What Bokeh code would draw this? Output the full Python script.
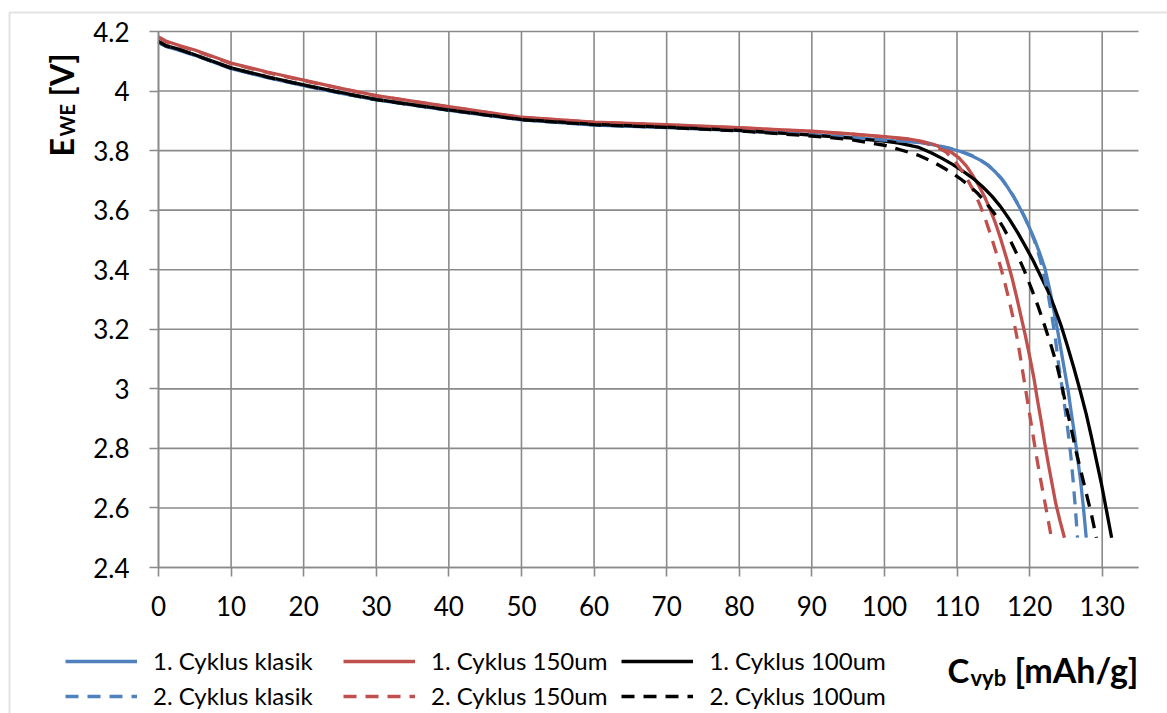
import numpy as np
from bokeh.plotting import figure
from bokeh.models import (Range1d, FixedTicker, CustomJSTickFormatter, Legend,
                          LegendItem, Label, BoxAnnotation)
from bokeh.embed import file_html
from bokeh.resources import INLINE

# ---------------- data ----------------
x_ticks = [0, 10, 20, 30, 40, 50, 60, 70, 80, 90, 100, 110, 120, 130]
y_ticks = [2.4, 2.6, 2.8, 3.0, 3.2, 3.4, 3.6, 3.8, 4.0, 4.2]

early_x = [0, 1, 3, 5, 10, 15, 20, 25, 30, 40, 50, 60, 70, 80, 90, 95, 100]

# 1. Cyklus klasik
k1_x = early_x + [105, 107, 109, 110.5, 112, 113.2, 114.3, 115.3, 116.2, 117.0, 117.8,
                  118.6, 119.3, 120.0, 120.7, 121.4, 122.1, 122.8, 123.4, 123.9, 124.4,
                  124.9, 125.3, 125.8, 126.2, 126.6, 127.0, 127.4, 127.8]
k1_y = [4.163, 4.150, 4.136, 4.120, 4.075, 4.045, 4.018, 3.993, 3.970, 3.935, 3.903,
        3.886, 3.877, 3.867, 3.853, 3.845, 3.835,
        3.827, 3.818, 3.807, 3.797, 3.783, 3.768, 3.750, 3.728, 3.703, 3.676, 3.645,
        3.610, 3.577, 3.540, 3.500, 3.455, 3.405, 3.330, 3.255, 3.190, 3.120,
        3.050, 2.995, 2.910, 2.845, 2.770, 2.695, 2.605, 2.500]

# 2. Cyklus klasik
k2_x = early_x + [105, 107, 109, 110.5, 112, 113.2, 114.3, 115.3, 116.2, 117.0, 117.8,
                  118.6, 119.3, 120.0, 120.7, 121.4, 122.0, 122.6, 123.1, 123.6, 124.0,
                  124.5, 124.9, 125.3, 125.7, 126.0, 126.3, 126.6]
k2_y = [4.164, 4.151, 4.137, 4.121, 4.076, 4.046, 4.019, 3.994, 3.971, 3.936, 3.904,
        3.887, 3.878, 3.867, 3.853, 3.845, 3.835,
        3.828, 3.819, 3.808, 3.798, 3.784, 3.769, 3.751, 3.729, 3.704, 3.677, 3.646,
        3.611, 3.578, 3.540, 3.495, 3.440, 3.380, 3.310, 3.240, 3.160, 3.080,
        3.000, 2.930, 2.855, 2.770, 2.690, 2.600, 2.500]

# 1. Cyklus 150um
r1_x = early_x + [103, 105, 106.5, 108, 109.2, 110.3, 111.3, 112.2, 113.0, 113.8, 114.6,
                  115.3, 116.0, 116.8, 117.5, 118.2, 118.8, 119.4, 120.0, 120.6, 121.1,
                  121.6, 122.1, 122.6, 123.1, 123.6, 124.2, 124.8]
r1_y = [4.182, 4.168, 4.152, 4.138, 4.094, 4.064, 4.037, 4.010, 3.985, 3.948, 3.912,
        3.896, 3.887, 3.877, 3.865, 3.857, 3.847,
        3.840, 3.832, 3.823, 3.810, 3.795, 3.775, 3.748, 3.715, 3.682, 3.645, 3.600,
        3.556, 3.505, 3.440, 3.380, 3.310, 3.245, 3.180, 3.110, 3.035, 2.960,
        2.890, 2.815, 2.745, 2.680, 2.615, 2.555, 2.500]

# 2. Cyklus 150um
r2_x = early_x + [103, 105, 107, 108.5, 109.7, 110.6, 111.5, 112.4, 113.2, 113.9, 114.6,
                  115.3, 116.0, 116.6, 117.2, 117.8, 118.4, 118.9, 119.4, 119.9, 120.4,
                  120.9, 121.4, 121.9, 122.4, 122.7, 123.0]
r2_y = [4.180, 4.166, 4.150, 4.136, 4.092, 4.062, 4.035, 4.009, 3.984, 3.947, 3.911,
        3.895, 3.886, 3.876, 3.864, 3.856, 3.846,
        3.839, 3.830, 3.815, 3.795, 3.765, 3.735, 3.700, 3.660, 3.615, 3.570, 3.520,
        3.465, 3.410, 3.355, 3.295, 3.230, 3.155, 3.080, 3.005, 2.930, 2.855,
        2.780, 2.710, 2.645, 2.580, 2.540, 2.500]

# 1. Cyklus 100um
b1_x = early_x + [102, 104.6, 106.5, 108, 109.5, 111, 112.4, 113.6, 114.8, 116.0, 117.2,
                  118.4, 119.5, 120.5, 121.5, 122.5, 123.4, 124.3, 125.2, 126.1, 127.0,
                  127.8, 128.5, 129.2, 129.9, 130.6, 131.3]
b1_y = [4.167, 4.153, 4.139, 4.122, 4.078, 4.048, 4.021, 3.996, 3.972, 3.937, 3.905,
        3.888, 3.879, 3.868, 3.852, 3.843, 3.832,
        3.825, 3.812, 3.792, 3.773, 3.752, 3.728, 3.703, 3.677, 3.647, 3.612, 3.570,
        3.523, 3.475, 3.430, 3.380, 3.330, 3.275, 3.215, 3.145, 3.070, 2.990,
        2.915, 2.840, 2.760, 2.680, 2.590, 2.500]

# 2. Cyklus 100um
b2_x = early_x + [102.3, 104.6, 106.5, 108.3, 109.5, 110.6, 111.8, 112.9, 114.1, 115.2,
                  116.3, 117.4, 118.4, 119.3, 120.2, 121.2, 122.1, 122.9, 123.7, 124.4,
                  125.0, 125.7, 126.4, 127.1, 127.8, 128.5, 129.2]
b2_y = [4.166, 4.152, 4.138, 4.121, 4.077, 4.047, 4.020, 3.995, 3.971, 3.936, 3.904,
        3.887, 3.878, 3.866, 3.849, 3.838, 3.818,
        3.802, 3.785, 3.765, 3.740, 3.722, 3.703, 3.680, 3.655, 3.622, 3.587,
        3.545, 3.495, 3.445, 3.395, 3.340, 3.275, 3.210, 3.150, 3.085, 3.015,
        2.945, 2.870, 2.790, 2.720, 2.650, 2.580, 2.500]

series_names = ["1. Cyklus klasik", "1. Cyklus 150um", "1. Cyklus 100um",
                "2. Cyklus klasik", "2. Cyklus 150um", "2. Cyklus 100um"]
series_x = [k1_x, r1_x, b1_x, k2_x, r2_x, b2_x]
series_y = [k1_y, r1_y, b1_y, k2_y, r2_y, b2_y]
series_colors = ["#4F81BD", "#C0504D", "#000000", "#4F81BD", "#C0504D", "#000000"]
series_dash = ["solid", "solid", "solid", "13 9", "13 9", "13 9"]

# ---------------- figure ----------------
FONT = "Lato"
GRID = "#8a8a8a"
W, H = 1167, 713
X0, X1, Y0, Y1 = 0, 135, 2.4, 4.2          # plotting area in data units
FL, FR, FT, FB = 158, 1138, 31, 567         # plotting area in pixels
sx = (X1 - X0) / (FR - FL)
sy = (Y1 - Y0) / (FB - FT)

p = figure(width=W, height=H, output_backend="svg", toolbar_location=None,
           x_range=Range1d(X0 - FL * sx, X1 + (W - FR) * sx),
           y_range=Range1d(Y0 - (H - FB) * sy, Y1 + FT * sy), title=None,
           min_border_left=0, min_border_right=0, min_border_top=0, min_border_bottom=0)
p.outline_line_color = None
p.background_fill_color = "white"
p.border_fill_color = "white"
p.xgrid.visible = False
p.ygrid.visible = False

p.xaxis.fixed_location = Y0
p.yaxis.fixed_location = X0
p.xaxis.bounds = (X0, X1)
p.yaxis.bounds = (Y0, Y1)

for ax in (p.xaxis[0], p.yaxis[0]):
    ax.axis_line_color = GRID
    ax.axis_line_width = 1.6
    ax.major_tick_line_color = GRID
    ax.major_tick_line_width = 1.6
    ax.major_tick_in = 0
    ax.major_tick_out = 9
    ax.minor_tick_line_color = None
    ax.major_label_text_font = FONT
    ax.major_label_text_font_size = "26px"
    ax.major_label_text_color = "black"

p.xaxis.ticker = FixedTicker(ticks=x_ticks)
p.yaxis.ticker = FixedTicker(ticks=y_ticks)
p.yaxis.formatter = CustomJSTickFormatter(code="return String(Number(tick.toFixed(1)));")
p.xaxis.major_label_standoff = 19
p.yaxis.major_label_standoff = 20

# grid lines over the plotting area, at the tick positions
p.segment(x0=x_ticks, y0=[Y0] * len(x_ticks), x1=x_ticks, y1=[Y1] * len(x_ticks),
          line_color=GRID, line_width=1.6)
p.segment(x0=[X0] * len(y_ticks), y0=y_ticks, x1=[X1] * len(y_ticks), y1=y_ticks,
          line_color=GRID, line_width=1.6)

renderers = []
for xs, ys, c, d in zip(series_x, series_y, series_colors, series_dash):
    r = p.line(xs, ys, line_color=c, line_width=3.3, line_dash=d, line_join="round")
    renderers.append(r)

common = dict(orientation="horizontal", glyph_width=72, glyph_height=24,
              label_height=24, label_width=176, label_standoff=16, spacing=14,
              padding=0, margin=0, border_line_color=None, background_fill_alpha=0,
              label_text_font=FONT, label_text_font_size="24px",
              label_text_color="black")
leg1 = Legend(items=[LegendItem(label=series_names[i], renderers=[renderers[i]]) for i in range(3)],
              location=(65, H - 675), **common)
leg2 = Legend(items=[LegendItem(label=series_names[i], renderers=[renderers[i]]) for i in range(3, 6)],
              location=(65, H - 710), **common)
p.add_layout(leg1)
p.add_layout(leg2)


def dx(px):
    return X0 + (px - FL) * sx


def dy(py):
    return Y0 + (FB - py) * sy


def lab(px, py, text, size, angle=0.0):
    p.add_layout(Label(x=dx(px), y=dy(py), text=text, text_font=FONT,
                       text_font_style="bold", text_font_size=size,
                       text_align="left", text_baseline="alphabetic",
                       text_color="black", angle=angle))


# x axis title: C_vyb [mAh/g]
lab(947, 669, "C", "33px")
lab(970, 677, "vyb", "22px")
lab(1014, 669, "[mAh/g]", "34px")

# y axis title: E_WE [V]
lab(61, 156, "E", "32px", np.pi / 2)
lab(66, 136, "WE", "20px", np.pi / 2)
lab(61, 96, "[V]", "32px", np.pi / 2)

# outer chart border
p.add_layout(BoxAnnotation(left=9, right=3000, top=12, bottom=3000,
                           left_units="canvas", right_units="canvas",
                           top_units="canvas", bottom_units="canvas",
                           fill_alpha=0, line_color="#a0a0a0", line_width=2))

open("out.html", "w").write(file_html(p, INLINE))
